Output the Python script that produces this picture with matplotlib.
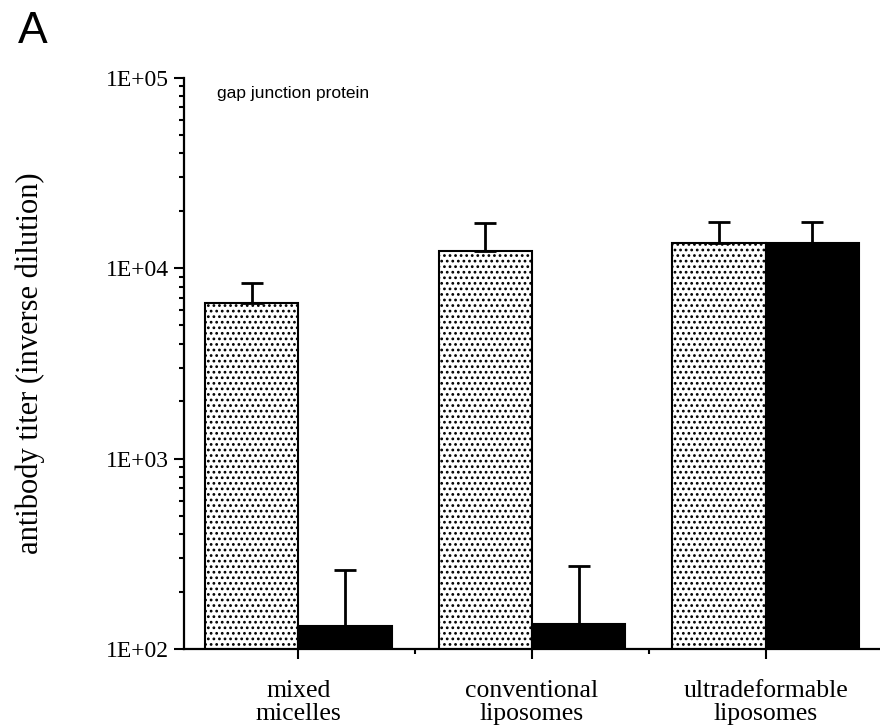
import numpy as np
import matplotlib
matplotlib.use('Agg')
import matplotlib.pyplot as plt
from matplotlib.ticker import LogLocator, FuncFormatter, FixedLocator, NullFormatter

# antibody titers against gap junction protein
groups = ['mixed\nmicelles', 'conventional\nliposomes', 'ultradeformable\nliposomes']
titer_light = [6560, 12300, 13500]     # stippled bars
titer_dark = [132, 135, 13500]         # black bars
upper_light = [8340, 17300, 17400]     # top of the error bars
upper_dark = [260, 272, 17400]

plt.rcParams['hatch.linewidth'] = 1.2

fig = plt.figure(figsize=(8.8, 7.26), dpi=100)
ax = fig.add_axes([0.209, 0.106, 0.791, 0.787])

x = np.arange(len(groups))
w = 0.4
err_l = np.array(upper_light) - np.array(titer_light)
err_d = np.array(upper_dark) - np.array(titer_dark)

ax.bar(x - w / 2, titer_light, w, color='white', edgecolor='black',
       hatch='...', linewidth=1.5, zorder=2)
ax.bar(x + w / 2, titer_dark, w, color='black', edgecolor='black',
       linewidth=1.5, zorder=2)
ax.errorbar(x - w / 2, titer_light, yerr=[np.zeros(3), err_l], fmt='none',
            ecolor='black', elinewidth=2, capsize=8, capthick=2, zorder=3)
ax.errorbar(x + w / 2, titer_dark, yerr=[np.zeros(3), err_d], fmt='none',
            ecolor='black', elinewidth=2, capsize=8, capthick=2, zorder=3)

ax.set_yscale('log')
ax.set_ylim(1e2, 1e5)
ax.set_xlim(-0.49, 2.49)

ax.yaxis.set_major_locator(LogLocator(base=10, numticks=10))
ax.yaxis.set_minor_locator(LogLocator(base=10, subs=np.arange(2, 10), numticks=10))
ax.yaxis.set_major_formatter(FuncFormatter(lambda v, p: '1E+%02d' % round(np.log10(v))))
ax.yaxis.set_minor_formatter(NullFormatter())

ax.set_xticks(x)
ax.set_xticklabels(groups, family='Liberation Serif', fontsize=18.5, linespacing=1.1)
ax.xaxis.set_minor_locator(FixedLocator([0.5, 1.5]))

ax.tick_params(axis='y', which='major', length=7, width=1.5, labelsize=17, pad=4)
ax.tick_params(axis='y', which='minor', length=3.5, width=1.5)
ax.tick_params(axis='x', which='major', length=7, width=1.5, pad=15)
ax.tick_params(axis='x', which='minor', length=3.5, width=1.5)
for lab in ax.get_yticklabels():
    lab.set_family('Liberation Serif')

for s in ['top', 'right']:
    ax.spines[s].set_visible(False)
for s in ['left', 'bottom']:
    ax.spines[s].set_linewidth(1.6)

ax.set_ylabel('antibody titer (inverse dilution)', family='Liberation Serif',
              fontsize=22, va='center')
ax.yaxis.set_label_coords(-0.221, 0.5)
ax.text(0.047, 0.985, 'gap junction protein', transform=ax.transAxes,
        family='Liberation Sans', fontsize=12.5, va='top', ha='left')
fig.text(0.02, 0.985, 'A', family='Liberation Sans', fontsize=32, va='top', ha='left')

fig.savefig('out.png', dpi=100)
